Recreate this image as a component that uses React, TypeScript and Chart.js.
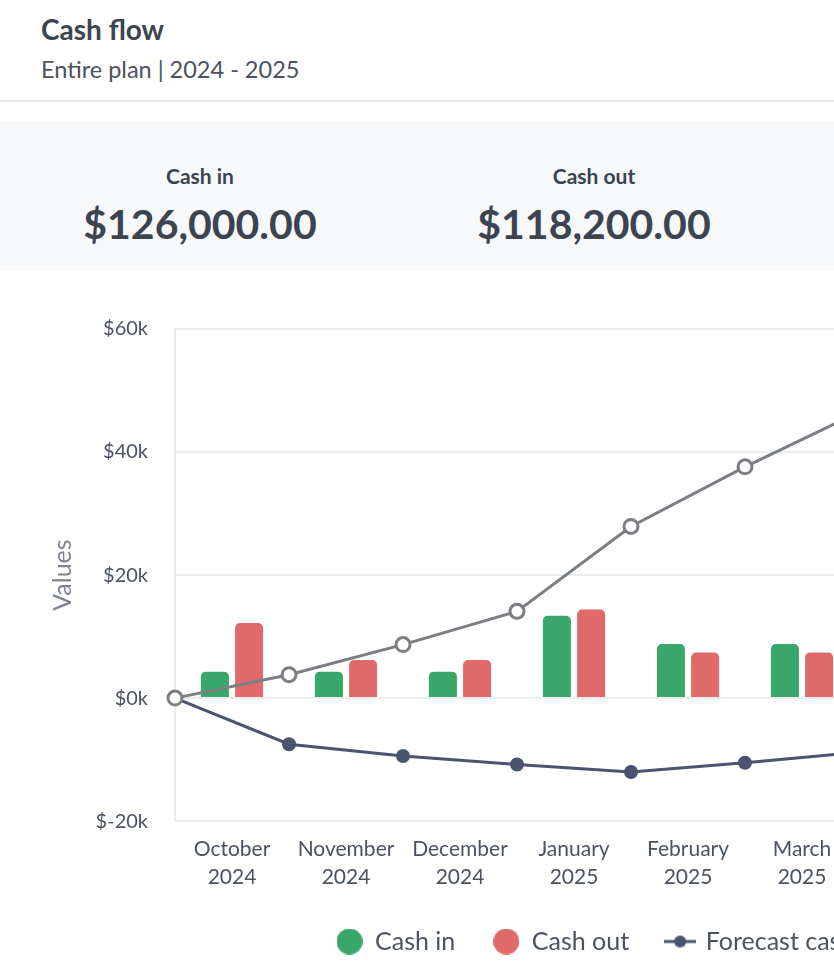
import { useEffect, useRef } from "react"
import { Chart, registerables } from "chart.js"

Chart.register(...registerables)

// monthly categories (plan runs Oct 2024 - Sep 2025)
const months = [
  ["October", "2024"],
  ["November", "2024"],
  ["December", "2024"],
  ["January", "2025"],
  ["February", "2025"],
  ["March", "2025"],
  ["April", "2025"],
  ["May", "2025"],
  ["June", "2025"],
  ["July", "2025"],
  ["August", "2025"],
  ["September", "2025"],
]

// line points sit on the month boundaries, so they have one more entry
const boundaries = ["Start", "Oct", "Nov", "Dec", "Jan", "Feb", "Mar", "Apr", "May", "Jun", "Jul", "Aug", "Sep"]

const cashIn = [4300, 4300, 4300, 13400, 8800, 8800, 13400, 13400, 13800, 13800, 13800, 13900]
const cashOut = [12200, 6200, 6200, 14400, 7400, 7400, 10200, 10200, 11000, 11000, 11000, 11000]
const forecastCash = [0, -7500, -9400, -10800, -12000, -10500, -8800, -5600, -2400, 400, 3200, 5600, 7800]
const cumulativeCash = [0, 3800, 8700, 14100, 27900, 37600, 46500, 52000, 55400, 57000, 57800, 58200, 58500]

const summary = [
  { label: "Cash in", value: "$126,000.00" },
  { label: "Cash out", value: "$118,200.00" },
  { label: "Net cash flow", value: "$7,800.00" },
]

const GREEN = "#3aa76a"
const RED = "#e06a6a"
const GRAY = "#7b7e82"
const NAVY = "#4a5470"
const TEXT = "#3c4351"
const FONT = "'Source Sans Pro', Lato, 'Noto Sans', sans-serif"

function circleIcon(color: string) {
  const c = document.createElement("canvas")
  c.width = 26
  c.height = 26
  const ctx = c.getContext("2d")!
  ctx.fillStyle = color
  ctx.beginPath()
  ctx.arc(13, 13, 13, 0, Math.PI * 2)
  ctx.fill()
  return c
}

function lineIcon(color: string, open: boolean) {
  const c = document.createElement("canvas")
  c.width = 32
  c.height = 16
  const ctx = c.getContext("2d")!
  ctx.strokeStyle = color
  ctx.lineWidth = 3
  ctx.beginPath()
  ctx.moveTo(0, 8)
  ctx.lineTo(32, 8)
  ctx.stroke()
  ctx.beginPath()
  ctx.arc(16, 8, 6, 0, Math.PI * 2)
  if (open) {
    ctx.fillStyle = "#fff"
    ctx.fill()
    ctx.lineWidth = 2.5
    ctx.stroke()
  } else {
    ctx.fillStyle = color
    ctx.fill()
  }
  return c
}

function CashFlowChart() {
  const chartRef = useRef<HTMLCanvasElement>(null)
  const chartInstance = useRef<Chart | null>(null)

  useEffect(() => {
    if (!chartRef.current) return
    const ctx = chartRef.current.getContext("2d")
    if (!ctx) return

    const icons = [circleIcon(GREEN), circleIcon(RED), lineIcon(NAVY, false), lineIcon(GRAY, true)]
    const legendNames = ["Cash in", "Cash out", "Forecast cash balance", "Cumulative cash flow"]

    chartInstance.current = new Chart(ctx, {
      type: "bar",
      data: {
        labels: months,
        datasets: [
          {
            type: "line",
            label: "Cumulative cash flow",
            data: cumulativeCash,
            xAxisID: "x2",
            borderColor: GRAY,
            borderWidth: 3,
            pointRadius: 7,
            pointBorderWidth: 3,
            pointBackgroundColor: "#ffffff",
            pointBorderColor: GRAY,
            clip: false,
            order: 0,
          },
          {
            type: "line",
            label: "Forecast cash balance",
            data: forecastCash,
            xAxisID: "x2",
            borderColor: NAVY,
            borderWidth: 3,
            pointRadius: 6,
            pointBorderWidth: 2,
            pointBackgroundColor: NAVY,
            pointBorderColor: NAVY,
            clip: false,
            order: 0,
          },
          {
            label: "Cash in",
            data: cashIn,
            backgroundColor: GREEN,
            borderRadius: 5,
            categoryPercentage: 1.2,
            barPercentage: 0.82,
            order: 1,
          },
          {
            label: "Cash out",
            data: cashOut,
            backgroundColor: RED,
            borderRadius: 5,
            categoryPercentage: 1.2,
            barPercentage: 0.82,
            order: 1,
          },
        ],
      },
      options: {
        responsive: true,
        maintainAspectRatio: false,
        animation: false,
        layout: { padding: { left: 49, right: 20, top: 37, bottom: 0 } },
        scales: {
          x: {
            type: "category",
            offset: true,
            grid: { display: false },
            border: { display: false },
            afterFit: (scale) => {
              scale.height -= 6
            },
            ticks: {
              color: "#4b5261",
              font: { family: FONT, size: 21, lineHeight: 1.33 },
              padding: 6,
              maxRotation: 0,
              autoSkip: false,
            },
          },
          x2: {
            type: "category",
            labels: boundaries,
            offset: false,
            display: false,
          },
          y: {
            min: -20000,
            max: 60000,
            afterFit: (scale) => {
              scale.width = 126
            },
            ticks: {
              stepSize: 20000,
              color: "#4b5261",
              font: { family: FONT, size: 20 },
              padding: 27,
              callback: (value) => `$${Number(value) / 1000}k`,
            },
            grid: { color: "#ebeef1", lineWidth: 2, drawTicks: false },
            border: { color: "#ebeef1", width: 2 },
            title: {
              display: true,
              text: "Values",
              color: "#7d8391",
              font: { family: FONT, size: 25, lineHeight: 1.1 },
              padding: 0,
            },
          },
        },
        plugins: {
          tooltip: { enabled: false },
          legend: {
            position: "bottom",
            labels: {
              color: "#4b5261",
              font: { family: FONT, size: 25 },
              usePointStyle: true,
              pointStyleWidth: 26,
              boxHeight: 25,
              padding: 38,
              generateLabels: () =>
                legendNames.map((text, i) => ({
                  text,
                  pointStyle: icons[i],
                  fillStyle: "transparent",
                  strokeStyle: "transparent",
                  lineWidth: 0,
                  hidden: false,
                  datasetIndex: i,
                  fontColor: "#4b5261",
                })),
            },
          },
        },
      },
    })

    return () => {
      chartInstance.current?.destroy()
      chartInstance.current = null
    }
  }, [])

  return (
    <div style={{ position: "absolute", left: 0, top: 290, width: 1563, height: 674 }}>
      <canvas ref={chartRef} />
    </div>
  )
}

export default function App() {
  return (
    <div
      style={{
        position: "relative",
        width: 834,
        height: 970,
        overflow: "hidden",
        background: "#ffffff",
        fontFamily: FONT,
        color: TEXT,
      }}
    >
      <style>{"body{margin:0;overflow:hidden}"}</style>
      <div style={{ position: "absolute", left: 41, top: 12, fontSize: 28, lineHeight: "34px", fontWeight: 700 }}>
        Cash flow
      </div>
      <div style={{ position: "absolute", left: 41, top: 55, fontSize: 23.5, lineHeight: "28px", color: "#4a5160" }}>
        Entire plan | 2024 - 2025
      </div>
      <div style={{ position: "absolute", left: 0, top: 100, width: 1600, height: 2, background: "#e4e7ea" }} />
      <div
        style={{
          position: "absolute",
          left: 0,
          top: 121,
          width: 1600,
          height: 149,
          background: "#f6f8fa",
          display: "flex",
          paddingLeft: 3,
        }}
      >
        {summary.map((s) => (
          <div key={s.label} style={{ width: 394, textAlign: "center", position: "relative" }}>
            <div style={{ position: "absolute", left: 0, right: 0, top: 42, fontSize: 21, lineHeight: "26px", fontWeight: 700 }}>
              {s.label}
            </div>
            <div style={{ position: "absolute", left: 0, right: 0, top: 78, fontSize: 41, lineHeight: "50px", fontWeight: 700 }}>
              {s.value}
            </div>
          </div>
        ))}
      </div>
      <CashFlowChart />
    </div>
  )
}
